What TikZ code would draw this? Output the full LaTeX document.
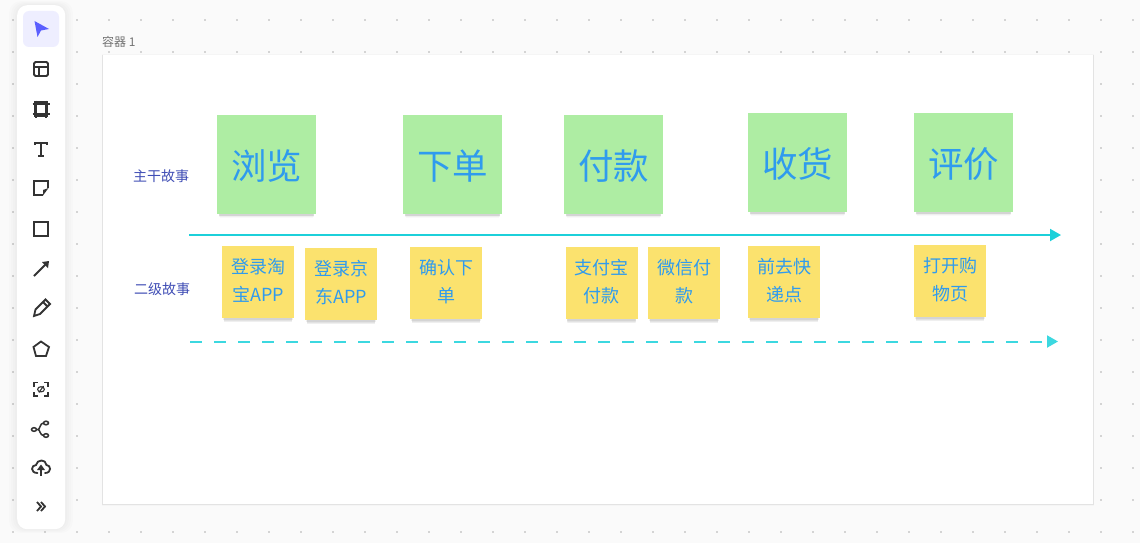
\documentclass[tikz,border=0pt]{standalone}
\usepackage{fontspec}
\setmainfont{Noto Sans CJK SC}
\usepackage{xcolor}
\usetikzlibrary{shadows}
\usetikzlibrary{arrows.meta}
\definecolor{canvasbg}{HTML}{FAFAFA}
\definecolor{griddot}{HTML}{D4D4D4}
\definecolor{selectbg}{HTML}{EEEEFF}
\definecolor{selectblue}{HTML}{5B5FFF}
\definecolor{icondark}{HTML}{333333}
\definecolor{notegreen}{HTML}{AEEDA3}
\definecolor{noteyellow}{HTML}{FBE26E}
\definecolor{noteblue}{HTML}{2F9BEE}
\definecolor{labelblue}{HTML}{3F4DB5}
\definecolor{linecyan}{HTML}{1CD0DA}
\definecolor{dashcyan}{HTML}{3CD8E0}
\tikzstyle{softshadow}=[general shadow={shadow scale=.94, shadow yshift=-7pt, fill=black, opacity=.025}, general shadow={shadow scale=.95, shadow yshift=-6pt, fill=black, opacity=.04}, general shadow={shadow scale=.95, shadow yshift=-5pt, fill=black, opacity=.05}, general shadow={shadow scale=.96, shadow yshift=-4pt, fill=black, opacity=.06}]
\tikzstyle{bignote}=[fill=notegreen, minimum size=99pt, inner sep=0pt, text=noteblue, text height=32pt, text depth=3pt, font=\fontsize{35.5}{40}\selectfont, softshadow]
\tikzstyle{smallnote}=[fill=noteyellow, minimum size=72pt, inner sep=0pt, align=center, text=noteblue, text depth=4pt, font=\fontsize{18}{27.5}\selectfont, softshadow]
\tikzstyle{rowlabel}=[text=labelblue, inner sep=0pt, font=\fontsize{14}{16}\selectfont]
\tikzstyle{storyline}=[linecyan, line width=2pt, -{Triangle[length=11pt,width=12pt]}]
\tikzstyle{toolicon}=[icondark, line width=1.8pt, line join=miter]
\begin{document}
\begin{tikzpicture}[x=1pt,y=-1pt]
\useasboundingbox (0,0) rectangle (1140,543);
\fill[canvasbg] (0,0) rectangle (1140,543);
\foreach \i in {0,...,35} {
	\foreach \j in {0,...,16} {
		\fill[griddot] (13+32*\i-1,20+32*\j-1) rectangle +(2,2);
	}
}
% toolbar shadow
\foreach \d in {8,6,4,2} {
	\fill[black, opacity=.012, rounded corners=12pt] (17-\d,5-\d/2) rectangle (65+\d,529+\d/2);
}
% container
\fill[black!4] (101.5,54.5) rectangle (1093.5,506);
\fill[black!11] (101.5,55) rectangle (1093.5,505);
\node[anchor=north west, inner sep=0pt, minimum width=990pt, minimum height=449pt, fill=white] (container) at (102.5,55) {};
\node[anchor=west, inner sep=0pt, text=black!55, font=\fontsize{12}{14}\selectfont] (containerlabel) at (102,42) {容器 1};
% toolbar
\node[anchor=north west, inner sep=0pt, minimum width=48pt, minimum height=524pt, rounded corners=10pt, fill=white] (toolbar) at (17,5) {};
\fill[selectbg, rounded corners=6pt] (23,11) rectangle (59,47);
\fill[selectblue] (34.5,21) -- (49,29) -- (41,30.5) -- (37.5,37) -- cycle;
\draw[toolicon, rounded corners=1.5pt] (34,62) rectangle (48,76);
\draw[toolicon] (34,67) -- (48,67) (39,67) -- (39,76);
\draw[toolicon] (34.5,102) rectangle (47.5,116);
\draw[toolicon] (32.5,104) -- (49.5,104) (32.5,114) -- (49.5,114) (36,100.5) -- (36,117.5) (46,100.5) -- (46,117.5);
\draw[toolicon] (35,145) -- (35,143) -- (47,143) -- (47,145) (41,143) -- (41,156) (38,156) -- (44,156);
\draw[toolicon] (48,188) -- (48,181) -- (34,181) -- (34,195) -- (43,195);
\fill[icondark] (48.5,188) -- (43,195.5) -- (43,190) -- cycle;
\draw[toolicon] (34,222) rectangle (48,236);
\draw[toolicon] (34,276) -- (47,263);
\fill[icondark] (49,261) -- (48,268) -- (42,262) -- cycle;
\draw[toolicon] (34,316) -- (35.5,309.5) -- (45.5,299.5) -- (50,304) -- (40,314) -- cycle (43,302) -- (47.5,306.5);
\draw[toolicon] (41,341.5) -- (49,347) -- (46,356) -- (36,356) -- (33.5,347) -- cycle;
\draw[toolicon] (34,387) -- (34,382.5) -- (38,382.5) (44,382.5) -- (48,382.5) -- (48,387) (48,392) -- (48,396) -- (44,396) (38,396) -- (34,396) -- (34,392);
\draw[toolicon, line width=1.1pt] (41,389.3) ellipse (3.4pt and 2.6pt) (39,392.5) -- (43.5,386);
\draw[toolicon, line width=1.5pt] (34,429.5) ellipse (2.5pt and 1.8pt) (46,423) ellipse (2.5pt and 1.8pt) (46,435.5) ellipse (2.5pt and 1.8pt);
\draw[toolicon, line width=1.5pt] (36.5,429.5) -- (38,429.5) .. controls (40,429.5) and (40,423) .. (43.5,423) (38,429.5) .. controls (40,429.5) and (40,435.5) .. (43.5,435.5);
\draw[toolicon, line cap=round] (37.5,473) .. controls (30,473) and (31,465) .. (36,465) .. controls (37,459) and (46,459) .. (46.5,465) .. controls (51,465) and (52,473) .. (45,473);
\draw[toolicon] (41,476) -- (41,468);
\fill[icondark] (41,464.5) -- (45,470) -- (37,470) -- cycle;
\draw[toolicon] (37,502) -- (41,506.5) -- (37,511) (41,502) -- (45,506.5) -- (41,511);
% main stories
\foreach \x/\y/\name/\txt in {266.5/164.5/browse/浏览,452.5/164.5/order/下单,613.5/164.5/pay/付款,797.5/162.5/receive/收货,963.5/162.5/review/评价} {
	\node[bignote] (\name) at (\x,\y) {\txt};
}
% second level stories
\foreach \x/\y/\name/\txt in {258/282/taobao/{登录淘\\宝APP},341/284/jd/{登录京\\东APP},446/283/confirm/{确认下\\单},601.5/283/alipay/{支付宝\\付款},684/283/wechat/{微信付\\款},784/282/pickup/{前去快\\递点},950/281/shop/{打开购\\物页}} {
	\node[smallnote] (\name) at (\x,\y) {\txt};
}
\node[rowlabel] (mainlabel) at (161,176) {主干故事};
\node[rowlabel] (sublabel) at (162,289) {二级故事};
\coordinate (mainstart) at (189,235);
\coordinate (mainend) at (1061,235);
\coordinate (substart) at (190,341.5);
\coordinate (subend) at (1058,341.5);
\draw[storyline] (mainstart) -- (mainend);
\draw[storyline, dashcyan, line width=2pt, dash pattern=on 12pt off 12pt] (substart) -- (subend);
\end{tikzpicture}
\end{document}
